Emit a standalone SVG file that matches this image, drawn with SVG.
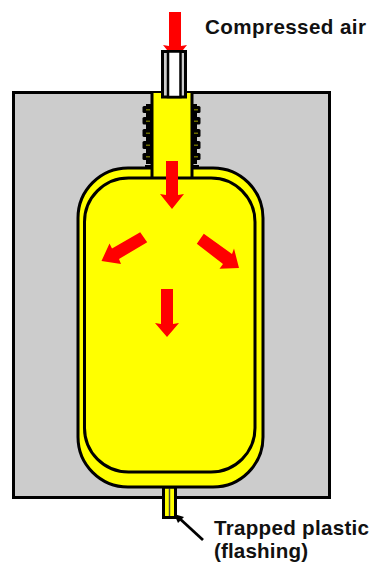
<svg xmlns="http://www.w3.org/2000/svg" width="371" height="563" viewBox="0 0 371 563">
<style>
.o{stroke:#000;stroke-width:3;fill:none}
.y{fill:#ff0;stroke:#000;stroke-width:3}
.a{fill:#f00}
.th{fill:#000}
.ti{fill:#6a6a00}
text{font-family:"Liberation Sans",Arial,sans-serif;font-weight:bold;font-size:20.6px;fill:#111}
</style>
<rect width="371" height="563" fill="#fff"/>
<g id="mold"><rect x="13.500" y="92.500" width="316" height="405" fill="#ccc" stroke="#000" stroke-width="3"/></g>
<g id="flashing">
<rect x="163.500" y="487" width="12" height="30.500" class="y"/>
<line x1="169.500" y1="487" x2="169.500" y2="516" stroke="#444" stroke-width="1.500"/>
</g>
<g id="threads">
<rect class="th" x="146" y="104" width="6" height="60"/>
<rect class="th" x="191" y="104" width="6" height="60"/>
<rect class="th" x="142.500" y="106" width="8" height="7" rx="1.500"/><rect class="th" x="142.500" y="117" width="8" height="7.500" rx="1.500"/><rect class="th" x="142.500" y="129" width="8" height="8" rx="1.500"/><rect class="th" x="142.500" y="141" width="8" height="8" rx="1.500"/><rect class="th" x="142.500" y="153" width="8" height="7" rx="1.500"/><rect class="th" x="145" y="165" width="8" height="8"/>
<rect class="th" x="193" y="106" width="7.500" height="7" rx="1.500"/><rect class="th" x="193" y="117" width="7.500" height="7.500" rx="1.500"/><rect class="th" x="193" y="129" width="7.500" height="8" rx="1.500"/><rect class="th" x="193" y="141" width="7.500" height="8" rx="1.500"/><rect class="th" x="193" y="153" width="7.500" height="7" rx="1.500"/><rect class="th" x="191" y="165" width="8" height="8"/>
<rect class="ti" x="146" y="109" width="4" height="1.500"/><rect class="ti" x="146" y="120.500" width="4" height="1.500"/><rect class="ti" x="146" y="132.500" width="4" height="1.500"/><rect class="ti" x="146" y="144.500" width="4" height="1.500"/><rect class="ti" x="146" y="156" width="4" height="1.500"/>
<rect class="ti" x="194" y="109" width="4" height="1.500"/><rect class="ti" x="194" y="120.500" width="4" height="1.500"/><rect class="ti" x="194" y="132.500" width="4" height="1.500"/><rect class="ti" x="194" y="144.500" width="4" height="1.500"/><rect class="ti" x="194" y="156" width="4" height="1.500"/>
</g>
<g id="bottle">
<rect x="78" y="168" width="185" height="319" rx="50" ry="50" class="y"/>
<path d="M152 93H192V170H152Z" fill="#ff0"/>
<path class="o" d="M152 92V178M192 92V178"/>
<rect x="84.500" y="178" width="170.500" height="294" rx="44" ry="44" class="o"/>
</g>
<g id="air-arrows">
<polygon class="a" points="169,12 181,12 181,46 187,45 175,60 163,45 169,46"/>
<polygon class="a" points="166,161 178,161 178,195 184,194 172,209 160,194 166,195"/>
<polygon class="a" points="161,289 173,289 173,324 179,323 167,337 155,323 161,324"/>
<polygon class="a" points="140.200,232.200 147.200,242.200 119,259 121,264 101.500,261 109.500,243.500 112,248.500"/>
<polygon class="a" points="203.800,233.800 196.800,243.800 223,264 219.500,268.800 239,268 234,248.500 232,254"/>
</g>
<g id="air-tube">
<rect x="162.500" y="51.500" width="23" height="45.500" fill="#ccc" stroke="#000" stroke-width="3"/>
<rect x="168" y="51.500" width="12.500" height="45.500" fill="#fff" stroke="#000" stroke-width="2.500"/>
</g>
<g id="connectors">
<line x1="203" y1="540" x2="178" y2="517" stroke="#000" stroke-width="2.800"/>
<polygon points="174,514 184,517 178,523" fill="#000"/>
</g>
<g id="labels">
<text x="205" y="34" textLength="161">Compressed air</text>
<text x="214" y="535" textLength="155">Trapped plastic</text>
<text x="214" y="558" textLength="94">(flashing)</text>
</g>
</svg>
